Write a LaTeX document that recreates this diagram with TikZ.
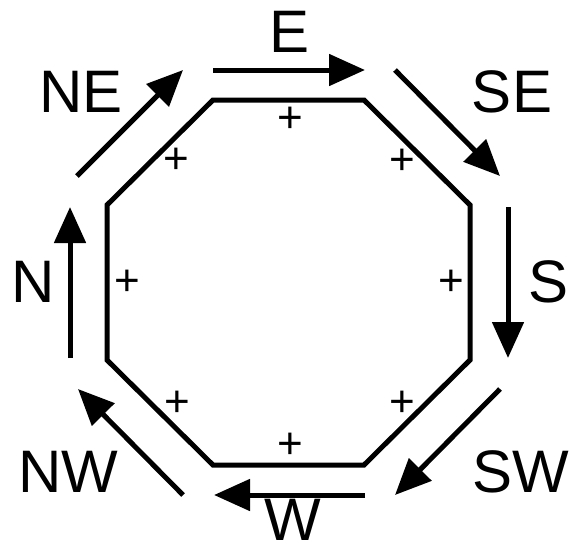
\documentclass[tikz,border=0pt]{standalone}
\usepackage{fontspec}
\setmainfont{Liberation Sans}
\usepackage{tikz}
\usetikzlibrary{arrows.meta}

\begin{document}
\begin{tikzpicture}[
  x=1pt,y=-1pt,
  dirlabel/.style={inner sep=0pt,font=\fontsize{60}{72}\selectfont},
  pluslabel/.style={inner sep=0pt,font=\fontsize{44}{50}\selectfont},
  edge/.style={line width=5pt,line join=miter},
  arr/.style={-{Triangle[length=36pt,width=31pt]},line width=5pt}
]
\useasboundingbox (0,0) rectangle (569,549);
% octagon corners
\coordinate (c1) at (213,100);
\coordinate (c2) at (364,100);
\coordinate (c3) at (470,205);
\coordinate (c4) at (470,360);
\coordinate (c5) at (364,465);
\coordinate (c6) at (213,465);
\coordinate (c7) at (107,360);
\coordinate (c8) at (107,205);
\draw[edge] (c1) -- (c2) -- (c3) -- (c4) -- (c5) -- (c6) -- (c7) -- (c8) -- cycle;

% arrow ends
\coordinate (eA) at (213,70);  \coordinate (eB) at (365,70);
\coordinate (seA) at (395,70); \coordinate (seB) at (500,176);
\coordinate (sA) at (508,207); \coordinate (sB) at (508,358);
\coordinate (swA) at (500,389); \coordinate (swB) at (395,495);
\coordinate (wA) at (365,495); \coordinate (wB) at (214,495);
\coordinate (nwA) at (183,495); \coordinate (nwB) at (78,389);
\coordinate (nA) at (70,358);  \coordinate (nB) at (70,207);
\coordinate (neA) at (77,176); \coordinate (neB) at (183,70);

\draw[arr] (eA) -- (eB);
\draw[arr] (seA) -- (seB);
\draw[arr] (sA) -- (sB);
\draw[arr] (swA) -- (swB);
\draw[arr] (wA) -- (wB);
\draw[arr] (nwA) -- (nwB);
\draw[arr] (nA) -- (nB);
\draw[arr] (neA) -- (neB);

% direction labels
\node[dirlabel] (lE) at (290,32) {E};
\node[dirlabel] (lSE) at (512,92) {SE};
\node[dirlabel] (lS) at (548,282) {S};
\node[dirlabel] (lSW) at (521,472) {SW};
\node[dirlabel] (lW) at (293,520) {W};
\node[dirlabel] (lNW) at (68,472) {NW};
\node[dirlabel] (lN) at (33,282) {N};
\node[dirlabel] (lNE) at (81,92) {NE};

% plus signs
\node[pluslabel] (p1) at (290,120) {+};
\node[pluslabel] (p2) at (402,162) {+};
\node[pluslabel] (p3) at (451,283) {+};
\node[pluslabel] (p4) at (402,404) {+};
\node[pluslabel] (p5) at (290,446) {+};
\node[pluslabel] (p6) at (177,404) {+};
\node[pluslabel] (p7) at (127,283) {+};
\node[pluslabel] (p8) at (176,161) {+};
\end{tikzpicture}
\end{document}
